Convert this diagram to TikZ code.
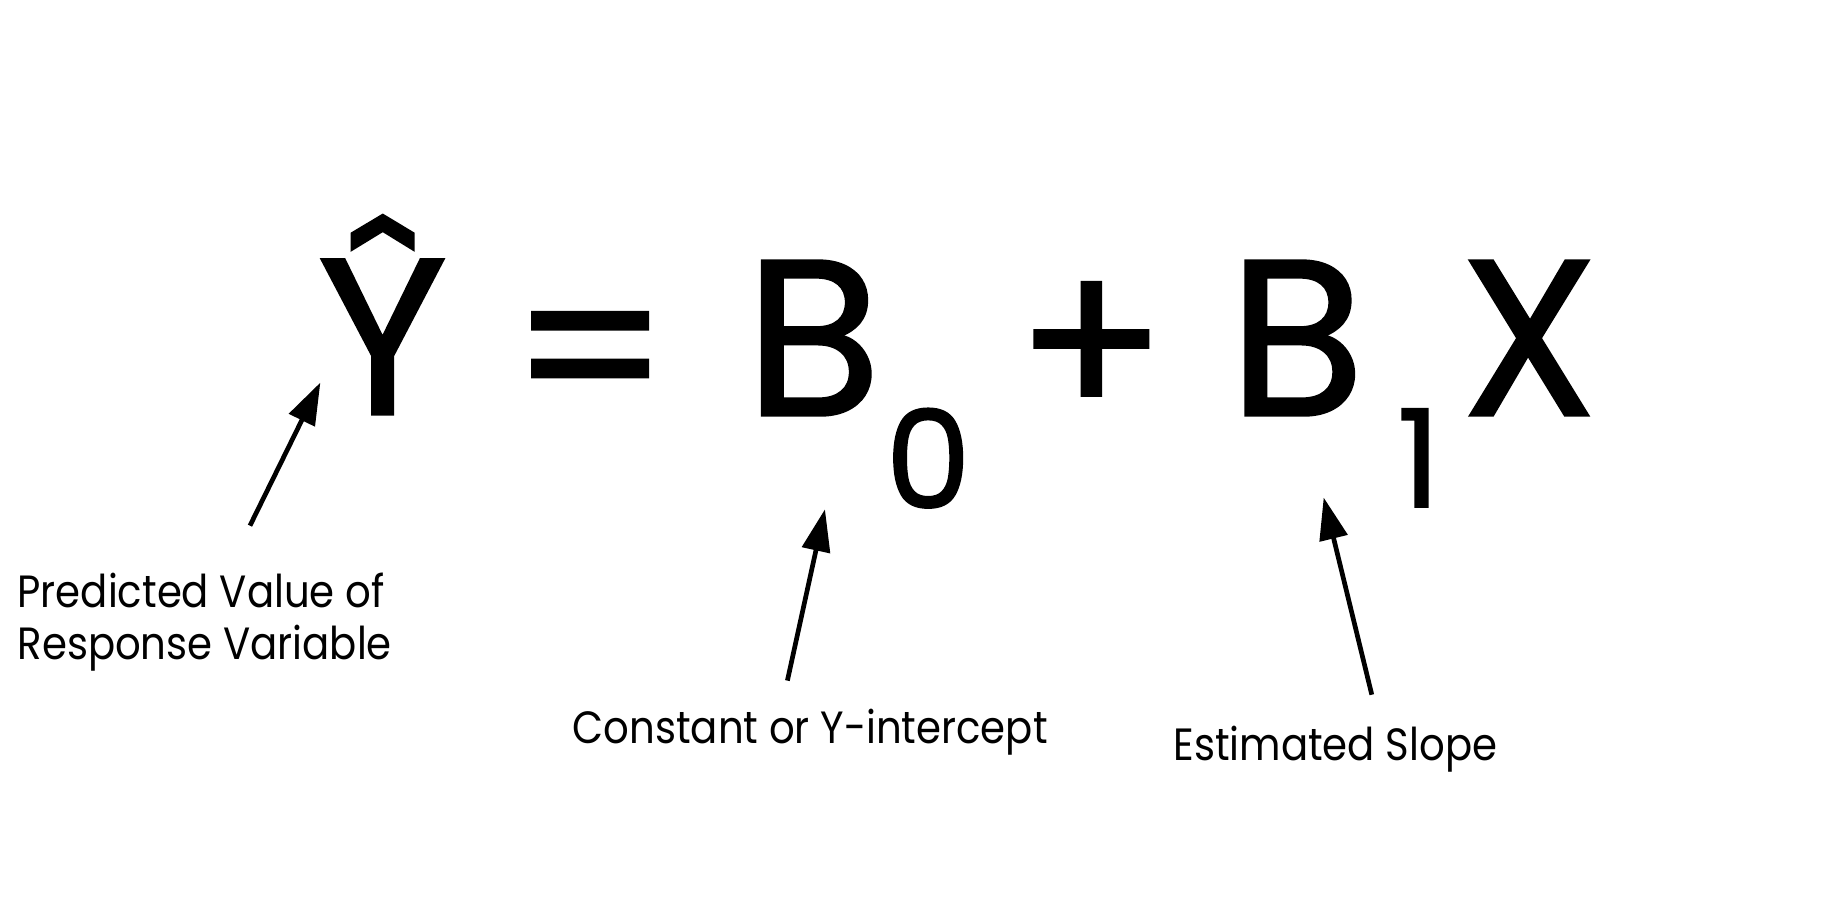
\documentclass[tikz,border=0pt]{standalone}
\usepackage{fontspec}
\setmainfont{Poppins}
\newfontfamily\lblfont[FakeStretch=0.89]{Poppins}
\newfontfamily\eqfont[FakeBold=1.2]{Poppins}
\usetikzlibrary{arrows.meta}

\begin{document}
\begin{tikzpicture}[x=0.5867pt,y=-0.5867pt]
\tikzstyle{every node}=[inner sep=0pt, outer sep=0pt]
\tikzstyle{big}=[anchor=base, font=\eqfont\fontsize{111}{111}\selectfont]
\tikzstyle{sub}=[anchor=base, font=\eqfont\fontsize{68}{68}\selectfont]
\tikzstyle{lbl}=[anchor=base west, align=left, font=\lblfont\fontsize{22.6}{25.8}\selectfont]
\tikzstyle{pointer}=[line width=2.35pt, -{Triangle[length=21pt,width=14pt]}]
\useasboundingbox (0,0) rectangle (1568,784);
% equation
\draw (326,353) node (yhat) [big] {\^{Y}};
\draw (503,363) node (eq) [big] {=};
\draw (693,354) node (b0) [big] {B};
\draw (791,433) node (s0) [sub] {0};
\draw (930,358) node (plus) [big] {+};
\draw (1105,354) node (b1) [big] {B};
\draw (1209,432) node (s1) [sub] {1};
\draw (1303,354) node (x) [big] {X};
% labels
\draw (15,562) node (pred) [lbl] {Predicted Value of\\Response Variable};
\draw (488,634) node (const) [lbl] {Constant or Y-intercept};
\draw (1000,648) node (slope) [lbl] {Estimated Slope};
% arrows
\coordinate (t1) at (213,448);
\coordinate (h1) at (273,326);
\coordinate (t2) at (671,580);
\coordinate (h2) at (703,434);
\coordinate (t3) at (1169,592);
\coordinate (h3) at (1128,424);
\draw[pointer] (t1) -- (h1);
\draw[pointer] (t2) -- (h2);
\draw[pointer] (t3) -- (h3);
\end{tikzpicture}
\end{document}
